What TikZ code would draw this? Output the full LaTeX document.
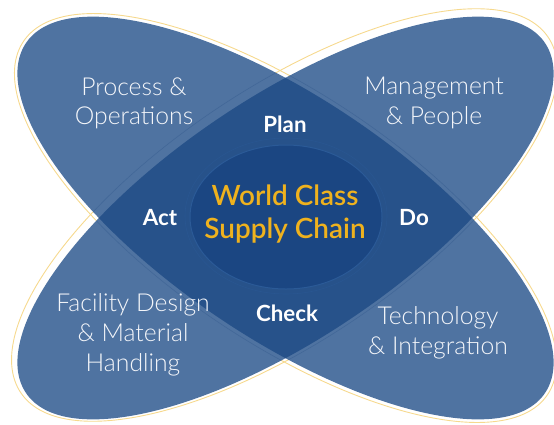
\documentclass[tikz,border=0pt]{standalone}
\usepackage{fontspec}
\setmainfont{Lato}
\newfontfamily\lightf{Lato Light}
\newfontfamily\semif{Lato Semibold}
\definecolor{lobe}{HTML}{4F73A1}
\definecolor{overlapc}{HTML}{27528A}
\definecolor{centerc}{HTML}{1B4682}
\definecolor{ringc}{HTML}{2B5A97}
\definecolor{goldline}{HTML}{F6D98E}
\definecolor{goldtext}{HTML}{EFB21E}
\definecolor{faint}{HTML}{3A5F92}
\definecolor{lobewhite}{HTML}{F4F6FA}
\tikzset{
  lobetext/.style={anchor=base, text=lobewhite, font=\lightf\fontsize{24.8}{29}\selectfont},
  pdca/.style={anchor=base, text=white, font=\bfseries\fontsize{22.4}{26}\selectfont},
  titletext/.style={anchor=base, text=goldtext, font=\semif\fontsize{28}{33}\selectfont},
  ellA/.style={rotate around={-34:(c)}},
  ellB/.style={rotate around={34:(c)}},
}
\begin{document}
\begin{tikzpicture}[x=1bp,y=1bp]
\useasboundingbox (0,0) rectangle (554,-424);
\coordinate (c) at (285.5,-218);
\coordinate (cg) at (284.5,-215);
% gold outlines behind
\draw[goldline, line width=0.9bp, ellA] (c) ellipse [x radius=316bp, y radius=124bp];
\draw[goldline, line width=0.9bp, rotate around={34:(cg)}] (cg) ellipse [x radius=318bp, y radius=126bp];
% lobes
\fill[lobe, ellA] (c) ellipse [x radius=313bp, y radius=120bp];
\fill[lobe, ellB] (c) ellipse [x radius=313bp, y radius=120bp];
% overlap
\begin{scope}
  \clip[ellA] (c) ellipse [x radius=313bp, y radius=120bp];
  \fill[overlapc, ellB] (c) ellipse [x radius=313bp, y radius=120bp];
\end{scope}
% faint offset outlines
\begin{scope}
  \clip[ellB] (c) ellipse [x radius=313bp, y radius=120bp];
  \draw[faint, opacity=0.6, line width=0.6bp, ellA] (c) ellipse [x radius=316bp, y radius=124bp];
\end{scope}
\begin{scope}
  \clip[ellA] (c) ellipse [x radius=313bp, y radius=120bp];
  \draw[faint, opacity=0.6, line width=0.6bp, rotate around={34:(cg)}] (cg) ellipse [x radius=318bp, y radius=126bp];
\end{scope}
% centre
\fill[centerc] (286,-217) ellipse [x radius=96bp, y radius=72bp];
\draw[ringc, line width=1bp] (286,-217) ellipse [x radius=96bp, y radius=72bp];
\draw[ringc, opacity=0.5, line width=0.6bp] (286,-216) ellipse [x radius=101bp, y radius=78bp];
% lobe texts
\node[lobetext] (po1) at (134,-95) {Process \&};
\node[lobetext] (po2) at (134,-124) {Operations};
\node[lobetext] (mp1) at (434,-94) {Management};
\node[lobetext] (mp2) at (434,-124) {\& People};
\node[lobetext] (fd1) at (133,-311) {Facility Design};
\node[lobetext] (fd2) at (133,-341) {\& Material};
\node[lobetext] (fd3) at (133,-371) {Handling};
\node[lobetext] (ti1) at (438,-324) {Technology};
\node[lobetext] (ti2) at (438,-354) {\& Integration};
% PDCA
\node[pdca] (plan) at (285,-132) {Plan};
\node[pdca] (act) at (160,-225) {Act};
\node[pdca] (do) at (414,-225) {Do};
\node[pdca] (check) at (287,-321) {Check};
% title
\node[titletext] (t1) at (285,-205) {World Class};
\node[titletext] (t2) at (285,-238) {Supply Chain};
\end{tikzpicture}
\end{document}
